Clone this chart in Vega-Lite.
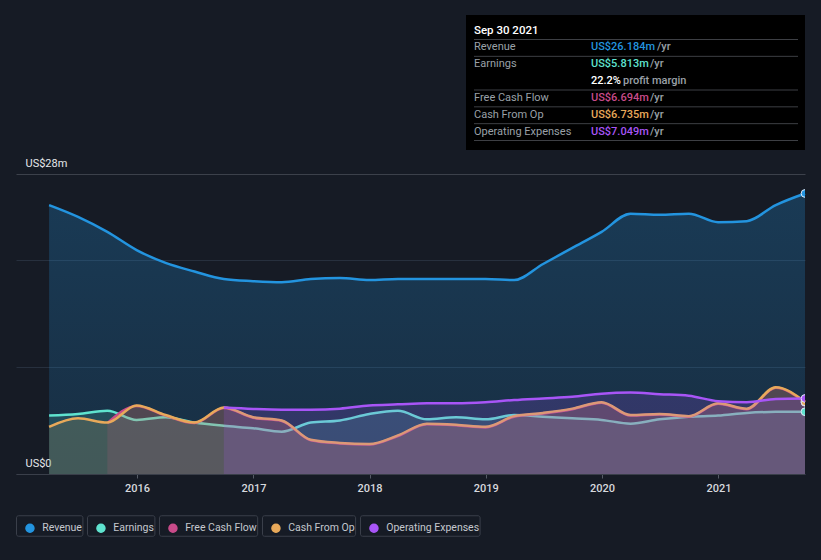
{
  "$schema": "https://vega.github.io/schema/vega-lite/v6.json",
  "width": 789,
  "height": 300,
  "autosize": "none",
  "padding": {"left": 16, "top": 174, "right": 16, "bottom": 86},
  "background": "#161b25",
  "config": {
    "view": {"stroke": null},
    "font": "Roboto",
    "text": {"font": "Roboto"}
  },
  "datasets": {
    "series": [
      {"date": "2015-03-31", "series": "Revenue", "value": 25.1},
      {"date": "2015-06-30", "series": "Revenue", "value": 24.0},
      {"date": "2015-09-30", "series": "Revenue", "value": 22.6},
      {"date": "2015-12-31", "series": "Revenue", "value": 20.9},
      {"date": "2016-03-31", "series": "Revenue", "value": 19.7},
      {"date": "2016-06-30", "series": "Revenue", "value": 18.9},
      {"date": "2016-09-30", "series": "Revenue", "value": 18.2},
      {"date": "2016-12-31", "series": "Revenue", "value": 18.0},
      {"date": "2017-03-31", "series": "Revenue", "value": 17.9},
      {"date": "2017-06-30", "series": "Revenue", "value": 18.2},
      {"date": "2017-09-30", "series": "Revenue", "value": 18.3},
      {"date": "2017-12-31", "series": "Revenue", "value": 18.1},
      {"date": "2018-03-31", "series": "Revenue", "value": 18.2},
      {"date": "2018-06-30", "series": "Revenue", "value": 18.2},
      {"date": "2018-09-30", "series": "Revenue", "value": 18.2},
      {"date": "2018-12-31", "series": "Revenue", "value": 18.2},
      {"date": "2019-03-31", "series": "Revenue", "value": 18.1},
      {"date": "2019-06-30", "series": "Revenue", "value": 19.6},
      {"date": "2019-09-30", "series": "Revenue", "value": 21.1},
      {"date": "2019-12-31", "series": "Revenue", "value": 22.6},
      {"date": "2020-03-31", "series": "Revenue", "value": 24.3},
      {"date": "2020-06-30", "series": "Revenue", "value": 24.2},
      {"date": "2020-09-30", "series": "Revenue", "value": 24.3},
      {"date": "2020-12-31", "series": "Revenue", "value": 23.5},
      {"date": "2021-03-31", "series": "Revenue", "value": 23.6},
      {"date": "2021-06-30", "series": "Revenue", "value": 25.1},
      {"date": "2021-09-30", "series": "Revenue", "value": 26.184},

      {"date": "2015-03-31", "series": "Earnings", "value": 5.45},
      {"date": "2015-06-30", "series": "Earnings", "value": 5.6},
      {"date": "2015-09-30", "series": "Earnings", "value": 5.9},
      {"date": "2015-12-31", "series": "Earnings", "value": 5.05},
      {"date": "2016-03-31", "series": "Earnings", "value": 5.3},
      {"date": "2016-06-30", "series": "Earnings", "value": 4.8},
      {"date": "2016-09-30", "series": "Earnings", "value": 4.5},
      {"date": "2016-12-31", "series": "Earnings", "value": 4.27},
      {"date": "2017-03-31", "series": "Earnings", "value": 3.95},
      {"date": "2017-06-30", "series": "Earnings", "value": 4.8},
      {"date": "2017-09-30", "series": "Earnings", "value": 5.0},
      {"date": "2017-12-31", "series": "Earnings", "value": 5.6},
      {"date": "2018-03-31", "series": "Earnings", "value": 5.9},
      {"date": "2018-06-30", "series": "Earnings", "value": 5.1},
      {"date": "2018-09-30", "series": "Earnings", "value": 5.3},
      {"date": "2018-12-31", "series": "Earnings", "value": 5.1},
      {"date": "2019-03-31", "series": "Earnings", "value": 5.5},
      {"date": "2019-06-30", "series": "Earnings", "value": 5.35},
      {"date": "2019-09-30", "series": "Earnings", "value": 5.2},
      {"date": "2019-12-31", "series": "Earnings", "value": 5.05},
      {"date": "2020-03-31", "series": "Earnings", "value": 4.7},
      {"date": "2020-06-30", "series": "Earnings", "value": 5.1},
      {"date": "2020-09-30", "series": "Earnings", "value": 5.35},
      {"date": "2020-12-31", "series": "Earnings", "value": 5.45},
      {"date": "2021-03-31", "series": "Earnings", "value": 5.7},
      {"date": "2021-06-30", "series": "Earnings", "value": 5.8},
      {"date": "2021-09-30", "series": "Earnings", "value": 5.813},

      {"date": "2015-09-30", "series": "Free Cash Flow", "value": 4.75},
      {"date": "2015-12-31", "series": "Free Cash Flow", "value": 6.35},
      {"date": "2016-03-31", "series": "Free Cash Flow", "value": 5.45},
      {"date": "2016-06-30", "series": "Free Cash Flow", "value": 4.75},
      {"date": "2016-09-30", "series": "Free Cash Flow", "value": 6.15},
      {"date": "2016-12-31", "series": "Free Cash Flow", "value": 5.25},
      {"date": "2017-03-31", "series": "Free Cash Flow", "value": 4.95},
      {"date": "2017-06-30", "series": "Free Cash Flow", "value": 3.15},
      {"date": "2017-09-30", "series": "Free Cash Flow", "value": 2.85},
      {"date": "2017-12-31", "series": "Free Cash Flow", "value": 2.75},
      {"date": "2018-03-31", "series": "Free Cash Flow", "value": 3.55},
      {"date": "2018-06-30", "series": "Free Cash Flow", "value": 4.65},
      {"date": "2018-09-30", "series": "Free Cash Flow", "value": 4.55},
      {"date": "2018-12-31", "series": "Free Cash Flow", "value": 4.35},
      {"date": "2019-03-31", "series": "Free Cash Flow", "value": 5.35},
      {"date": "2019-06-30", "series": "Free Cash Flow", "value": 5.65},
      {"date": "2019-09-30", "series": "Free Cash Flow", "value": 6.05},
      {"date": "2019-12-31", "series": "Free Cash Flow", "value": 6.65},
      {"date": "2020-03-31", "series": "Free Cash Flow", "value": 5.45},
      {"date": "2020-06-30", "series": "Free Cash Flow", "value": 5.55},
      {"date": "2020-09-30", "series": "Free Cash Flow", "value": 5.35},
      {"date": "2020-12-31", "series": "Free Cash Flow", "value": 6.55},
      {"date": "2021-03-31", "series": "Free Cash Flow", "value": 6.05},
      {"date": "2021-06-30", "series": "Free Cash Flow", "value": 8.05},
      {"date": "2021-09-30", "series": "Free Cash Flow", "value": 6.694},

      {"date": "2015-03-31", "series": "Cash From Op", "value": 4.4},
      {"date": "2015-06-30", "series": "Cash From Op", "value": 5.2},
      {"date": "2015-09-30", "series": "Cash From Op", "value": 4.8},
      {"date": "2015-12-31", "series": "Cash From Op", "value": 6.4},
      {"date": "2016-03-31", "series": "Cash From Op", "value": 5.5},
      {"date": "2016-06-30", "series": "Cash From Op", "value": 4.8},
      {"date": "2016-09-30", "series": "Cash From Op", "value": 6.2},
      {"date": "2016-12-31", "series": "Cash From Op", "value": 5.3},
      {"date": "2017-03-31", "series": "Cash From Op", "value": 5.0},
      {"date": "2017-06-30", "series": "Cash From Op", "value": 3.2},
      {"date": "2017-09-30", "series": "Cash From Op", "value": 2.9},
      {"date": "2017-12-31", "series": "Cash From Op", "value": 2.8},
      {"date": "2018-03-31", "series": "Cash From Op", "value": 3.6},
      {"date": "2018-06-30", "series": "Cash From Op", "value": 4.7},
      {"date": "2018-09-30", "series": "Cash From Op", "value": 4.6},
      {"date": "2018-12-31", "series": "Cash From Op", "value": 4.4},
      {"date": "2019-03-31", "series": "Cash From Op", "value": 5.4},
      {"date": "2019-06-30", "series": "Cash From Op", "value": 5.7},
      {"date": "2019-09-30", "series": "Cash From Op", "value": 6.1},
      {"date": "2019-12-31", "series": "Cash From Op", "value": 6.7},
      {"date": "2020-03-31", "series": "Cash From Op", "value": 5.5},
      {"date": "2020-06-30", "series": "Cash From Op", "value": 5.6},
      {"date": "2020-09-30", "series": "Cash From Op", "value": 5.4},
      {"date": "2020-12-31", "series": "Cash From Op", "value": 6.6},
      {"date": "2021-03-31", "series": "Cash From Op", "value": 6.1},
      {"date": "2021-06-30", "series": "Cash From Op", "value": 8.1},
      {"date": "2021-09-30", "series": "Cash From Op", "value": 6.735},

      {"date": "2016-09-30", "series": "Operating Expenses", "value": 6.2},
      {"date": "2016-12-31", "series": "Operating Expenses", "value": 6.07},
      {"date": "2017-03-31", "series": "Operating Expenses", "value": 6.0},
      {"date": "2017-06-30", "series": "Operating Expenses", "value": 6.0},
      {"date": "2017-09-30", "series": "Operating Expenses", "value": 6.1},
      {"date": "2017-12-31", "series": "Operating Expenses", "value": 6.4},
      {"date": "2018-03-31", "series": "Operating Expenses", "value": 6.5},
      {"date": "2018-06-30", "series": "Operating Expenses", "value": 6.6},
      {"date": "2018-09-30", "series": "Operating Expenses", "value": 6.6},
      {"date": "2018-12-31", "series": "Operating Expenses", "value": 6.7},
      {"date": "2019-03-31", "series": "Operating Expenses", "value": 6.9},
      {"date": "2019-06-30", "series": "Operating Expenses", "value": 7.05},
      {"date": "2019-09-30", "series": "Operating Expenses", "value": 7.2},
      {"date": "2019-12-31", "series": "Operating Expenses", "value": 7.5},
      {"date": "2020-03-31", "series": "Operating Expenses", "value": 7.6},
      {"date": "2020-06-30", "series": "Operating Expenses", "value": 7.45},
      {"date": "2020-09-30", "series": "Operating Expenses", "value": 7.3},
      {"date": "2020-12-31", "series": "Operating Expenses", "value": 6.8},
      {"date": "2021-03-31", "series": "Operating Expenses", "value": 6.7},
      {"date": "2021-06-30", "series": "Operating Expenses", "value": 7.0},
      {"date": "2021-09-30", "series": "Operating Expenses", "value": 7.049}
    ],
    "bands": [
      {"start": "2015-03-31", "end": "2020-09-30", "zone": "past"},
      {"start": "2020-09-30", "end": "2021-09-30", "zone": "recent"}
    ],
    "tipText": [
      {"row": "header", "col": "label", "part": "header", "text": "Sep 30 2021"},
      {"row": "Revenue", "col": "label", "part": "label", "text": "Revenue"},
      {"row": "Earnings", "col": "label", "part": "label", "text": "Earnings"},
      {"row": "Free Cash Flow", "col": "label", "part": "label", "text": "Free Cash Flow"},
      {"row": "Cash From Op", "col": "label", "part": "label", "text": "Cash From Op"},
      {"row": "Operating Expenses", "col": "label", "part": "label", "text": "Operating Expenses"},
      {"row": "Revenue", "col": "value", "part": "value", "series": "Revenue", "text": "US$26.184m"},
      {"row": "Earnings", "col": "value", "part": "value", "series": "Earnings", "text": "US$5.813m"},
      {"row": "margin", "col": "value", "part": "value", "series": "margin", "text": "22.2%"},
      {"row": "Free Cash Flow", "col": "value", "part": "value", "series": "Free Cash Flow", "text": "US$6.694m"},
      {"row": "Cash From Op", "col": "value", "part": "value", "series": "Cash From Op", "text": "US$6.735m"},
      {"row": "Operating Expenses", "col": "value", "part": "value", "series": "Operating Expenses", "text": "US$7.049m"},
      {"row": "Revenue", "col": "value", "part": "unit", "text": "/yr"},
      {"row": "Earnings", "col": "value", "part": "unit", "text": "/yr"},
      {"row": "margin", "col": "value", "part": "unit", "text": "profit margin"},
      {"row": "Free Cash Flow", "col": "value", "part": "unit", "text": "/yr"},
      {"row": "Cash From Op", "col": "value", "part": "unit", "text": "/yr"},
      {"row": "Operating Expenses", "col": "value", "part": "unit", "text": "/yr"}
    ],
    "tipLines": [
      {"after": "header"},
      {"after": "Revenue"},
      {"after": "margin"},
      {"after": "Free Cash Flow"},
      {"after": "Cash From Op"},
      {"after": "Operating Expenses"}
    ],
    "tipBox": [{"date": "Sep 30 2021"}]
  },
  "layer": [
    {
      "data": {"name": "series"},
      "layer": [
        {
          "data": {"name": "bands"},
          "transform": [{"filter": "datum.zone == 'past'"}],
          "mark": {"type": "rect", "fill": {"gradient": "linear", "x1": 0, "y1": 0, "x2": 1, "y2": 0, "stops": [{"offset": 0, "color": "#161b25"}, {"offset": 0.5, "color": "#12161f"}, {"offset": 1, "color": "#0e1117"}]}},
          "encoding": {"x": {"field": "start", "type": "temporal"}, "x2": {"field": "end"}}
        },
        {
          "data": {"name": "bands"},
          "transform": [{"filter": "datum.zone == 'recent'"}],
          "mark": {"type": "rect", "fill": {"gradient": "linear", "x1": 0, "y1": 0, "x2": 1, "y2": 0, "stops": [{"offset": 0, "color": "#0e1629"}, {"offset": 1, "color": "#0c2140"}]}},
          "encoding": {"x": {"field": "start", "type": "temporal"}, "x2": {"field": "end"}}
        },
        {
          "transform": [{"filter": "datum.series == 'Revenue'"}],
          "mark": {"type": "area", "interpolate": "monotone", "fill": {"gradient": "linear", "x1": 0, "y1": 0, "x2": 0, "y2": 1, "stops": [{"offset": 0, "color": "rgba(35,148,223,0.26)"}, {"offset": 1, "color": "rgba(35,148,223,0.16)"}]}},
          "encoding": {"x": {"field": "date", "type": "temporal"}, "y": {"field": "value", "type": "quantitative"}}
        },
        {
          "transform": [{"filter": "datum.series == 'Revenue'"}],
          "mark": {"type": "line", "interpolate": "monotone", "strokeWidth": 2.5},
          "encoding": {"x": {"field": "date", "type": "temporal"}, "y": {"field": "value", "type": "quantitative"}, "color": {"field": "series", "type": "nominal"}}
        },
        {
          "transform": [{"filter": "datum.series == 'Earnings'"}],
          "mark": {"type": "area", "interpolate": "monotone", "fill": "#5fe3cf", "fillOpacity": 0.16},
          "encoding": {"x": {"field": "date", "type": "temporal"}, "y": {"field": "value", "type": "quantitative"}}
        },
        {
          "transform": [{"filter": "datum.series == 'Earnings'"}],
          "mark": {"type": "line", "interpolate": "monotone", "strokeWidth": 2.5},
          "encoding": {"x": {"field": "date", "type": "temporal"}, "y": {"field": "value", "type": "quantitative"}, "color": {"field": "series", "type": "nominal"}}
        },
        {
          "transform": [{"filter": "datum.series == 'Free Cash Flow'"}],
          "mark": {"type": "area", "interpolate": "monotone", "fill": "#c94b8a", "fillOpacity": 0.16},
          "encoding": {"x": {"field": "date", "type": "temporal"}, "y": {"field": "value", "type": "quantitative"}}
        },
        {
          "transform": [{"filter": "datum.series == 'Free Cash Flow'"}],
          "mark": {"type": "line", "interpolate": "monotone", "strokeWidth": 2.5},
          "encoding": {"x": {"field": "date", "type": "temporal"}, "y": {"field": "value", "type": "quantitative"}, "color": {"field": "series", "type": "nominal"}}
        },
        {
          "transform": [{"filter": "datum.series == 'Cash From Op'"}],
          "mark": {"type": "area", "interpolate": "monotone", "fill": "#e8a95a", "fillOpacity": 0.16},
          "encoding": {"x": {"field": "date", "type": "temporal"}, "y": {"field": "value", "type": "quantitative"}}
        },
        {
          "transform": [{"filter": "datum.series == 'Cash From Op'"}],
          "mark": {"type": "line", "interpolate": "monotone", "strokeWidth": 2.5},
          "encoding": {"x": {"field": "date", "type": "temporal"}, "y": {"field": "value", "type": "quantitative"}, "color": {"field": "series", "type": "nominal"}}
        },
        {
          "transform": [{"filter": "datum.series == 'Operating Expenses'"}],
          "mark": {"type": "area", "interpolate": "monotone", "fill": "#a855f7", "fillOpacity": 0.18},
          "encoding": {"x": {"field": "date", "type": "temporal"}, "y": {"field": "value", "type": "quantitative"}}
        },
        {
          "transform": [{"filter": "datum.series == 'Operating Expenses'"}],
          "mark": {"type": "line", "interpolate": "monotone", "strokeWidth": 2.5},
          "encoding": {"x": {"field": "date", "type": "temporal"}, "y": {"field": "value", "type": "quantitative"}, "color": {"field": "series", "type": "nominal"}}
        },
        {
          "transform": [{"filter": "utcyear(datum.date) == 2021 && utcmonth(datum.date) == 8"}],
          "mark": {"type": "point", "filled": true, "size": 60, "opacity": 1, "stroke": "#dfe7f5", "strokeWidth": 1, "clip": true},
          "encoding": {"x": {"field": "date", "type": "temporal"}, "y": {"field": "value", "type": "quantitative"}, "fill": {"field": "series", "type": "nominal", "scale": {"domain": ["Revenue", "Earnings", "Free Cash Flow", "Cash From Op", "Operating Expenses"], "range": ["#2394df", "#5fe3cf", "#c94b8a", "#e8a95a", "#a855f7"]}, "legend": null}}
        }
      ],
      "encoding": {
        "x": {
          "field": "date", "type": "temporal",
          "scale": {"domain": ["2014-12-17", "2021-09-30"]},
          "axis": {
            "title": null, "format": "%Y",
            "values": [{"year": 2016}, {"year": 2017}, {"year": 2018}, {"year": 2019}, {"year": 2020}, {"year": 2021}],
            "grid": false, "domainColor": "#3a3f4a", "tickColor": "#555b66", "tickSize": 4,
            "labelColor": "#d6d9de", "labelFontSize": 11, "labelFontWeight": 500, "labelPadding": 4, "labelFont": "Roboto"
          }
        },
        "y": {
          "field": "value", "type": "quantitative",
          "scale": {"domain": [0, 28], "nice": false},
          "axis": {
            "title": null, "values": [0, 10, 20, 28], "domain": false, "ticks": false, "tickSize": 0,
            "labelExpr": "datum.value == 28 ? 'US$28m' : datum.value == 0 ? 'US$0' : ''",
            "labelAlign": "left", "labelBaseline": "bottom", "labelPadding": -9, "labelOffset": -6,
            "labelColor": "#e6e8eb", "labelFontSize": 11, "labelFont": "Roboto",
            "gridColor": {"condition": {"test": "datum.value == 28", "value": "#3c414b"}, "value": "#27303e"},
            "gridWidth": 1
          }
        },
        "color": {
          "field": "series", "type": "nominal",
          "scale": {"domain": ["Revenue", "Earnings", "Free Cash Flow", "Cash From Op", "Operating Expenses"], "range": ["#2394df", "#5fe3cf", "#c94b8a", "#e8a95a", "#a855f7"]},
          "legend": {
            "title": null, "orient": "none", "legendX": 0, "legendY": 341, "direction": "horizontal",
            "symbolType": "circle", "symbolSize": 64, "symbolOpacity": 1, "symbolOffset": 8.7,
            "labelColor": "#c4c8ce", "labelFontSize": 10.5, "labelFont": "Roboto", "labelOffset": 7,
            "labelExpr": "datum.label + '\u00a0\u00a0\u00a0'",
            "columnPadding": 4, "padding": 0,
            "encode": {
              "entries": {"update": {"stroke": {"value": "#3a3f4a"}, "strokeWidth": {"value": 1}, "cornerRadius": {"value": 2}}},
              "symbols": {"update": {"y": {"value": 13}}},
              "labels": {"update": {"y": {"value": 13}, "stroke": {"value": "rgba(0,0,0,0)"}, "strokeWidth": {"value": 16}}}
            }
          }
        }
      }
    },
    {
      "data": {"name": "tipBox"},
      "mark": {"type": "rect", "fill": "#000000"},
      "encoding": {
        "x": {"datum": "left", "type": "nominal", "scale": {"type": "point", "domain": ["left", "right"], "range": [450, 789], "padding": 0}, "axis": null},
        "x2": {"datum": "right"},
        "y": {"datum": "top", "type": "nominal", "scale": {"type": "point", "domain": ["top", "bottom"], "range": [-159, -24], "padding": 0}, "axis": null},
        "y2": {"datum": "bottom"}
      }
    },
    {
      "data": {"name": "tipLines"},
      "mark": {"type": "rule", "stroke": "#3d3f44", "strokeWidth": 1},
      "encoding": {
        "x": {"datum": "start", "type": "nominal", "scale": {"type": "point", "domain": ["start", "end"], "range": [458, 782], "padding": 0}, "axis": null},
        "x2": {"datum": "end"},
        "y": {"field": "after", "type": "nominal", "scale": {"type": "point", "domain": ["header", "Revenue", "Earnings", "margin", "Free Cash Flow", "Cash From Op", "Operating Expenses"], "range": [-134.5, -33.5], "padding": 0}, "axis": null}
      }
    },
    {
      "data": {"name": "tipText"},
      "encoding": {
        "x": {"field": "col", "type": "nominal", "scale": {"type": "point", "domain": ["label", "value"], "range": [458, 575], "padding": 0}, "axis": null},
        "y": {"field": "row", "type": "nominal", "scale": {"type": "point", "domain": ["header", "Revenue", "Earnings", "margin", "Free Cash Flow", "Cash From Op", "Operating Expenses"], "range": [-143.5, -42.5], "padding": 0}, "axis": null},
        "text": {"field": "text"}
      },
      "layer": [
        {"transform": [{"filter": "datum.part == 'header'"}], "mark": {"type": "text", "align": "left", "baseline": "middle", "fontSize": 11.5, "fontWeight": 500, "color": "#ffffff"}},
        {"transform": [{"filter": "datum.part == 'label'"}], "mark": {"type": "text", "align": "left", "baseline": "middle", "fontSize": 11, "color": "#9aa0a8"}},
        {"transform": [{"filter": "datum.part == 'unit' && datum.row == 'Revenue'"}], "mark": {"type": "text", "align": "left", "baseline": "middle", "fontSize": 11, "fontWeight": 500, "color": "#9aa0a8", "dx": 66}},
        {"transform": [{"filter": "datum.part == 'unit' && datum.row == 'margin'"}], "mark": {"type": "text", "align": "left", "baseline": "middle", "fontSize": 11, "fontWeight": 500, "color": "#9aa0a8", "dx": 32}},
        {"transform": [{"filter": "datum.part == 'unit' && datum.row != 'Revenue' && datum.row != 'margin'"}], "mark": {"type": "text", "align": "left", "baseline": "middle", "fontSize": 11, "fontWeight": 500, "color": "#9aa0a8", "dx": 59}},
        {"transform": [{"filter": "datum.part == 'value'"}], "mark": {"type": "text", "align": "left", "baseline": "middle", "fontSize": 11, "fontWeight": 500},
         "encoding": {"color": {"field": "series", "type": "nominal", "scale": {"domain": ["Revenue", "Earnings", "margin", "Free Cash Flow", "Cash From Op", "Operating Expenses"], "range": ["#2394df", "#5fe3cf", "#ffffff", "#c94b8a", "#e8a95a", "#a855f7"]}, "legend": null}}}
      ]
    }
  ],
  "resolve": {"scale": {"x": "independent", "y": "independent", "color": "independent", "fill": "independent"}}
}
